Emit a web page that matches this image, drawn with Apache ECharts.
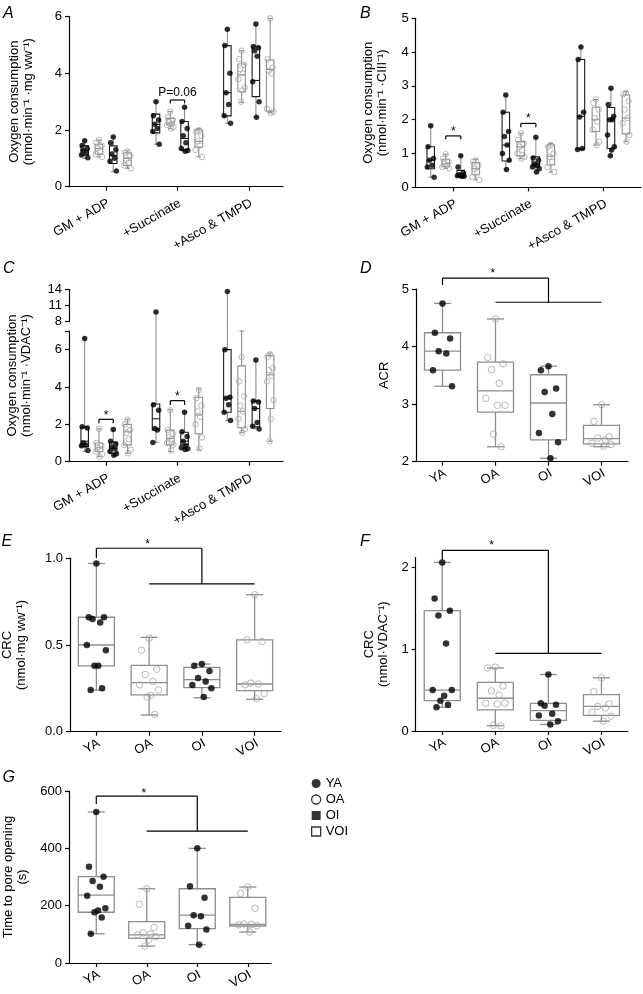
<!DOCTYPE html>
<html><head><meta charset="utf-8">
<script src="https://cdn.jsdelivr.net/npm/echarts@6/dist/echarts.min.js"></script>
<style>html,body{margin:0;padding:0;background:#fff}#c{width:643px;height:994px}</style>
</head><body><div id="c"></div>
<script>
// ---------------- DATA ----------------
const conditions = ['GM + ADP', '+Succinate', '+Asco & TMPD'];
const cohorts = ['YA', 'OA', 'OI', 'VOI'];

// Panel A: oxygen consumption per mg ww (points per condition)
const A_YA  = [[1.62,1.45,1.35,1.28,1.2,1.12,1.02],[3.0,2.5,2.35,2.2,2.05,1.95,1.5],[5.56,4.98,4.0,3.32,2.9,2.5,2.24]];
const A_OA  = [[1.65,1.55,1.45,1.35,1.25,1.15,1.05],[2.65,2.45,2.35,2.28,2.22,2.18,2.1,2.05],[4.8,4.5,4.3,4.15,4.0,3.8,3.5,3.4,3.0]];
const A_OI  = [[1.75,1.55,1.3,1.15,1.0,0.9,0.55],[2.8,2.3,2.05,1.8,1.55,1.35,1.28,1.25],[5.74,4.95,4.9,4.8,4.6,3.7,3.0,2.45]];
const A_VOI = [[1.25,1.2,1.1,0.95,0.85,0.75,0.65],[2.0,1.95,1.8,1.6,1.45,1.3,1.05],[5.94,4.5,4.2,4.1,4.0,2.75,2.65,2.6]];
// boxes: [min, q1, median, q3, max]
const A_YA_box  = [[1.0,1.12,1.28,1.45,1.62],[1.5,1.9,2.2,2.56,3.0],[2.24,2.5,3.32,4.98,5.56]];
const A_OA_box  = [[1.05,1.15,1.35,1.5,1.65],[2.05,2.18,2.25,2.41,2.65],[2.98,3.35,3.95,4.33,4.8]];
const A_OI_box  = [[0.53,0.82,1.1,1.44,1.76],[1.25,1.3,1.7,2.3,2.8],[2.45,3.18,3.75,4.94,5.74]];
const A_VOI_box = [[0.65,0.75,1.0,1.2,1.27],[1.06,1.4,1.6,2.0,2.05],[2.61,2.65,4.14,4.47,5.94]];

// Panel B: per CIII
const B_YA  = [[1.82,1.2,0.85,0.8,0.65,0.6,0.3],[2.73,2.22,1.65,1.5,1.25,1.0,0.8,0.53],[4.15,3.78,2.22,2.08,1.15,1.12]];
const B_OA  = [[0.98,0.85,0.75,0.7,0.65,0.6,0.56],[1.6,1.4,1.3,1.2,1.1,1.0,0.9,0.85],[2.6,2.5,2.3,2.05,1.95,1.7,1.35,1.25]];
const B_OI  = [[0.93,0.6,0.42,0.37,0.35,0.34,0.33,0.33],[1.48,0.87,0.8,0.7,0.65,0.6,0.55,0.45],[2.93,2.45,2.1,2.0,2.0,1.55,1.2,1.1,0.93]];
const B_VOI = [[0.8,0.75,0.65,0.55,0.45,0.3,0.22],[1.25,1.2,1.0,0.9,0.75,0.6,0.45],[2.8,2.75,2.55,2.3,2.05,1.9,1.55,1.35]];
const B_YA_box  = [[0.3,0.55,0.8,1.2,1.82],[0.53,0.78,1.25,2.22,2.73],[1.12,1.13,2.1,3.78,4.15]];
const B_OA_box  = [[0.56,0.61,0.7,0.83,0.98],[0.85,0.93,1.2,1.35,1.6],[1.25,1.65,2.0,2.37,2.6]];
const B_OI_box  = [[0.32,0.33,0.36,0.5,0.93],[0.45,0.61,0.68,0.9,1.48],[0.93,1.15,2.0,2.36,2.93]];
const B_VOI_box = [[0.22,0.37,0.55,0.73,0.83],[0.45,0.66,0.92,1.25,1.3],[1.35,1.58,2.05,2.73,2.83]];

// Panel C: per VDAC (broken axis 0-7 / 8-14)
const C_YA  = [[6.6,1.87,1.8,1.0,0.9,0.85,0.6],[9.8,3.05,2.75,1.78,1.7,1.03],[13.6,6.0,3.45,3.4,3.05,2.65,2.2]];
const C_OA  = [[1.76,1.0,0.85,0.75,0.65,0.55,0.4,0.27],[2.75,1.7,1.5,1.3,1.2,1.0,0.9,0.6],[5.6,4.3,3.5,3.0,2.7,2.3,1.75,1.55]];
const C_OI  = [[1.72,1.1,0.95,0.8,0.7,0.55,0.42,0.35],[2.65,1.6,1.35,1.1,0.85,0.75,0.7,0.65],[5.45,3.25,3.2,2.85,2.1,1.9,1.75]];
const C_VOI = [[2.25,2.0,1.7,1.55,1.2,0.9,0.65,0.45],[3.85,3.4,3.0,2.7,2.4,2.0,1.3,0.7],[5.75,5.6,5.0,4.9,4.6,4.3,3.3,2.3,1.1]];
const C_YA_box  = [[0.55,0.8,1.1,1.85,6.6],[1.03,1.7,2.3,3.09,9.8],[2.2,2.65,3.4,6.0,13.6]];
const C_OA_box  = [[0.27,0.55,0.75,1.0,1.76],[0.55,0.9,1.25,1.69,2.78],[1.55,1.82,2.7,5.13,7.0]];
const C_OI_box  = [[0.33,0.45,0.72,1.05,1.76],[0.64,0.9,1.1,1.58,2.7],[1.76,1.87,2.85,3.25,5.45]];
const C_VOI_box = [[0.45,0.9,1.6,2.0,2.27],[0.64,1.5,2.5,3.45,3.9],[1.09,2.85,4.65,5.69,5.82]];

// Panel D: ACR
const D_YA  = [4.75,4.24,4.14,3.92,3.88,3.59,3.31];
const D_OA  = [4.48,3.81,3.7,3.6,3.36,3.1,2.98,2.98,2.48,2.26];
const D_OI  = [3.66,3.59,3.27,3.21,2.83,2.5,2.34,2.06];
const D_VOI = [2.99,2.7,2.43,2.41,2.38,2.32,2.3,2.27];
const D_box = [[3.31,3.59,3.92,4.24,4.75],[2.26,2.86,3.23,3.73,4.48],[2.06,2.38,3.02,3.51,3.66],[2.26,2.31,2.4,2.63,2.99]];

// Panel E: CRC per mg ww
const E_YA  = [0.97,0.66,0.66,0.65,0.63,0.5,0.47,0.38,0.38,0.25,0.24];
const E_OA  = [0.54,0.47,0.36,0.33,0.29,0.27,0.24,0.21,0.2,0.1];
const E_OI  = [0.39,0.38,0.35,0.31,0.29,0.27,0.25,0.2];
const E_VOI = [0.79,0.53,0.52,0.28,0.275,0.27,0.22,0.19];
const E_box = [[0.24,0.38,0.5,0.66,0.97],[0.096,0.212,0.283,0.383,0.544],[0.196,0.254,0.3,0.371,0.39],[0.187,0.237,0.275,0.529,0.79]];

// Panel F: CRC per VDAC
const F_YA  = [2.06,1.62,1.47,1.41,1.07,0.5,0.5,0.43,0.37,0.32,0.29];
const F_OA  = [0.78,0.77,0.55,0.49,0.44,0.34,0.34,0.33,0.07,0.06];
const F_OI  = [0.69,0.34,0.32,0.31,0.21,0.19,0.12,0.08];
const F_VOI = [0.65,0.48,0.33,0.3,0.28,0.23,0.18,0.12];
const F_box = [[0.29,0.37,0.5,1.47,2.06],[0.065,0.257,0.4,0.595,0.77],[0.08,0.13,0.25,0.338,0.69],[0.12,0.19,0.3,0.444,0.65]];

// Panel G: time to pore opening (s)
const G_YA  = [527,336,301,286,266,235,191,183,177,159,102];
const G_OA  = [259,205,124,105,101,98,92,80,59];
const G_OI  = [400,268,228,167,163,130,117,64];
const G_VOI = [265,243,191,136,135,133,130,108];
const G_box = [[102,177,237,301,527],[59,86,98,144,259],[64,120,167,259,400],[108,129,135,229,265]];

// ---------------- BUILD ----------------
const FONT = '"Liberation Sans", Arial, Helvetica, sans-serif';
const AXC = '#000';
const GREY_BOX = '#8e8e8e';
const GREY_PT = '#a6a6a6';
const DARK_BOX = '#1a1a1a';
const jit = [0, -0.8, 0.8, -0.4, 0.4, -1, 1, 0.2, -0.2, 0.6, -0.6, 0.1];

const grids = [], xAxes = [], yAxes = [], series = [];

function addGrid(g, xa, ya) {
  const gi = grids.length;
  grids.push(Object.assign({outerBoundsMode: 'none', containLabel: false}, g));
  xAxes.push(Object.assign({gridIndex: gi}, xa));
  yAxes.push(Object.assign({gridIndex: gi}, ya));
  return gi;
}
function xAxisCfg(min, max, ticks, names, margin, show) {
  return {type: 'value', min, max, show: show !== false,
    axisLine: {show: true, onZero: false, lineStyle: {color: AXC, width: 1.2}},
    axisTick: {show: true, customValues: ticks, length: 4, lineStyle: {color: AXC, width: 1.2}},
    axisLabel: {customValues: ticks, formatter: v => names[Math.round(v)] || '', rotate: 30, margin,
      fontSize: 13, color: '#000', fontFamily: FONT, padding: [0, -3, 0, 0]},
    splitLine: {show: false}};
}
function yAxisCfg(min, max, tickVals, labelVals, fmt, name, nameGap) {
  return {type: 'value', min, max,
    axisLine: {show: true, onZero: false, lineStyle: {color: AXC, width: 1.2}},
    axisTick: {show: true, customValues: tickVals, length: 4, lineStyle: {color: AXC, width: 1.2}},
    axisLabel: {customValues: labelVals, formatter: fmt || (v => String(v)), margin: 7,
      fontSize: 13, color: '#000', fontFamily: FONT},
    splitLine: {show: false},
    name: name || '', nameLocation: 'middle', nameRotate: 90, nameGap: nameGap || 30,
    nameTextStyle: {fontSize: 13, lineHeight: 14, color: '#000', fontFamily: FONT}};
}

function boxSeries(gi, items, o) {
  // items: [x, min, q1, med, q3, max, cohortIndex]
  series.push({type: 'custom', xAxisIndex: gi, yAxisIndex: gi, z: 2, silent: true, clip: false,
    data: items, encode: {x: 0, y: [1, 2, 3, 4, 5]},
    renderItem: function (params, api) {
      const x = api.value(0);
      const v = [1, 2, 3, 4, 5].map(i => api.value(i));
      const ci = api.value(6);
      const lo = o.lo, hi = o.hi;
      const boxC = o.boxColors[ci], wC = o.whisker;
      const cl = y => Math.max(lo, Math.min(hi, y));
      const cx = api.coord([x, cl(v[2])])[0];
      const Y = val => api.coord([x, cl(val)])[1];
      const ch = [];
      const ls = c => ({stroke: c, lineWidth: o.lw, fill: null});
      function seg(a, b) {
        if (b < lo || a > hi) return;
        let y1 = Y(a), y2 = Y(b);
        if (b > hi && o.extTop) y2 -= o.extTop;
        ch.push({type: 'line', shape: {x1: cx, y1, x2: cx, y2}, style: ls(wC)});
      }
      seg(v[0], v[1]); seg(v[3], v[4]);
      [v[0], v[4]].forEach(val => {
        if (val >= lo && val <= hi) {
          const y = Y(val);
          ch.push({type: 'line', shape: {x1: cx - o.cap / 2, y1: y, x2: cx + o.cap / 2, y2: y}, style: ls(wC)});
        }
      });
      if (!(v[3] < lo || v[1] > hi)) {
        const yt = Y(v[3]), yb = Y(v[1]);
        ch.push({type: 'rect', shape: {x: cx - o.w / 2, y: yt, width: o.w, height: yb - yt}, style: {stroke: boxC, lineWidth: o.lw, fill: 'none'}});
      }
      if (v[2] >= lo && v[2] <= hi) {
        const y = Y(v[2]);
        ch.push({type: 'line', shape: {x1: cx - o.w / 2, y1: y, x2: cx + o.w / 2, y2: y}, style: ls(boxC)});
      }
      return {type: 'group', children: ch};
    }});
}

function pointSeries(gi, name, groups, xs, amp, filled, size, filt) {
  const data = [];
  groups.forEach((arr, k) => arr.forEach((v, i) => {
    if (!filt || filt(v)) data.push([xs[k] + jit[i % jit.length] * amp, v]);
  }));
  series.push({type: 'scatter', name, xAxisIndex: gi, yAxisIndex: gi, z: 5, silent: true,
    data, symbol: 'circle', symbolSize: size,
    itemStyle: filled ? {color: '#000', borderWidth: 0} : {color: 'rgba(255,255,255,0)', borderColor: GREY_PT, borderWidth: 1}});
}

function bracketSeries(gi, lines, texts) {
  series.push({type: 'custom', xAxisIndex: gi, yAxisIndex: gi, z: 6, silent: true, clip: false,
    data: [[0, 0]],
    renderItem: function (params, api) {
      const ch = [];
      lines.forEach(l => {
        const a = api.coord([l[0], l[1]]), b = api.coord([l[2], l[3]]);
        ch.push({type: 'line', shape: {x1: a[0], y1: a[1], x2: b[0], y2: b[1]}, style: {stroke: '#000', lineWidth: 1.2}});
      });
      texts.forEach(t => {
        const a = api.coord([t.x, t.y]);
        ch.push({type: 'text', x: a[0], y: a[1] + (t.dy || 0), style: {text: t.text, fill: '#000', font: (t.size || 12) + 'px ' + FONT, align: 'center', verticalAlign: 'middle'}});
      });
      return {type: 'group', children: ch};
    }});
}

const offs = [-0.3, -0.1, 0.1, 0.3];
const idx = [0, 1, 2];
const oxName = 'Oxygen consumption';

// ---- Panel A-C helper ----
function groupedPanel(gi, pts, boxes, o) {
  const items = [];
  boxes.forEach((bx, c) => bx.forEach((b, k) => items.push([k + offs[c]].concat(b, [c]))));
  boxSeries(gi, items, Object.assign({w: 7.5, cap: 4.5, lw: 1.1, whisker: GREY_BOX, boxColors: [DARK_BOX, GREY_BOX, DARK_BOX, GREY_BOX]}, o));
  pts.forEach((p, c) => pointSeries(gi, cohorts[c], p, idx.map(k => k + offs[c]), 0.045, c % 2 === 0, 5.5, o.filt));
}

// Panel A
const gA = addGrid({left: 69, top: 16.7, width: 214, height: 170},
  xAxisCfg(-0.52, 2.48, [0, 1, 2], conditions, 17),
  yAxisCfg(0, 6, [0, 2, 4, 6], [0, 2, 4, 6], null, oxName + '\n(nmol·min⁻¹ ·mg ww⁻¹)', 34));
groupedPanel(gA, [A_YA, A_OA, A_OI, A_VOI], [A_YA_box, A_OA_box, A_OI_box, A_VOI_box], {lo: 0, hi: 6});
bracketSeries(gA, [[0.9, 3.06, 1.1, 3.06], [0.9, 3.06, 0.9, 2.94], [1.1, 3.06, 1.1, 2.94]], [{x: 1, y: 3.32, text: 'P=0.06', size: 12}]);

// Panel B
const gB = addGrid({left: 415.7, top: 18.3, width: 225.3, height: 169},
  xAxisCfg(-0.5, 2.5, [0, 1, 2], conditions, 17),
  yAxisCfg(0, 5, [0, 1, 2, 3, 4, 5], [0, 1, 2, 3, 4, 5], null, oxName + '\n(nmol·min⁻¹ ·CIII⁻¹)', 26));
groupedPanel(gB, [B_YA, B_OA, B_OI, B_VOI], [B_YA_box, B_OA_box, B_OI_box, B_VOI_box], {lo: 0, hi: 5});
bracketSeries(gB, [[-0.1, 1.52, 0.1, 1.52], [-0.1, 1.52, -0.1, 1.42], [0.1, 1.52, 0.1, 1.42],
  [0.9, 1.89, 1.1, 1.89], [0.9, 1.89, 0.9, 1.78], [1.1, 1.89, 1.1, 1.78]],
  [{x: 0, y: 1.72, text: '*', size: 12, dy: 3}, {x: 1, y: 2.11, text: '*', size: 12, dy: 3}]);

// Panel C (broken axis)
const gCu = addGrid({left: 69, top: 289.3, width: 214, height: 32.4},
  xAxisCfg(-0.52, 2.48, [], conditions, 17, false),
  yAxisCfg(8, 14, [8, 11, 14], [8, 11, 14], null, '', 30));
const gCl = addGrid({left: 69, top: 331, width: 214, height: 130.7},
  xAxisCfg(-0.52, 2.48, [0, 1, 2], conditions, 17),
  yAxisCfg(0, 7, [0, 2, 4, 6, 7], [0, 2, 4, 6], null, '', 30));
const gCn = addGrid({left: 69, top: 289.3, width: 214, height: 172.4},
  {type: 'value', show: false, min: 0, max: 1},
  Object.assign(yAxisCfg(0, 1, [], [], null, oxName + '\n(nmol·min⁻¹ ·VDAC⁻¹)', 36),
    {axisLine: {show: false}, axisTick: {show: false}, axisLabel: {show: false}}));
groupedPanel(gCl, [C_YA, C_OA, C_OI, C_VOI], [C_YA_box, C_OA_box, C_OI_box, C_VOI_box], {lo: 0, hi: 7, extTop: 9.3, filt: v => v <= 7});
groupedPanel(gCu, [C_YA, C_OA, C_OI, C_VOI], [C_YA_box, C_OA_box, C_OI_box, C_VOI_box], {lo: 8, hi: 14, filt: v => v >= 8});
bracketSeries(gCl, [[-0.1, 2.27, 0.1, 2.27], [-0.1, 2.27, -0.1, 2.06], [0.1, 2.27, 0.1, 2.06],
  [0.9, 3.27, 1.1, 3.27], [0.9, 3.27, 0.9, 3.04], [1.1, 3.27, 1.1, 3.04]],
  [{x: 0, y: 2.62, text: '*', size: 12, dy: 3}, {x: 1, y: 3.66, text: '*', size: 12, dy: 3}]);

// ---- Panels D-G helper ----
function simplePanel(gi, pts, boxes, o) {
  const items = boxes.map((b, c) => [c].concat(b, [c]));
  boxSeries(gi, items, {w: 36, cap: 17, lw: 1.3, whisker: GREY_BOX, boxColors: [GREY_BOX, GREY_BOX, GREY_BOX, GREY_BOX], lo: o.lo, hi: o.hi});
  pts.forEach((p, c) => pointSeries(gi, cohorts[c], [p], [c], 0.18, c % 2 === 0, 6.5));
}
const cat4 = [0, 1, 2, 3];

// Panel D
const gD = addGrid({left: 416, top: 289, width: 212, height: 172.7},
  xAxisCfg(-0.5, 3.5, cat4, cohorts, 12),
  yAxisCfg(2, 5, [2, 3, 4, 5], [2, 3, 4, 5], null, 'ACR', 25));
simplePanel(gD, [D_YA, D_OA, D_OI, D_VOI], D_box, {lo: 2, hi: 5});
bracketSeries(gD, [[0, 5.19, 2, 5.19], [0, 5.19, 0, 5.07], [2, 5.19, 2, 4.77], [1, 4.77, 3, 4.77]],
  [{x: 0.95, y: 5.31, text: '*', size: 12, dy: 3}]);

// Panel E
const gE = addGrid({left: 70, top: 558.3, width: 211, height: 173.4},
  xAxisCfg(-0.5, 3.5, cat4, cohorts, 12),
  yAxisCfg(0, 1, [0, 0.5, 1], [0, 0.5, 1], v => v.toFixed(1), 'CRC\n(nmol·mg ww⁻¹)', 42));
simplePanel(gE, [E_YA, E_OA, E_OI, E_VOI], E_box, {lo: 0, hi: 1});
bracketSeries(gE, [[0, 1.058, 2, 1.058], [0, 1.058, 0, 1.0], [2, 1.058, 2, 0.852], [1, 0.852, 3, 0.852]],
  [{x: 0.97, y: 1.096, text: '*', size: 12, dy: 3}]);

// Panel F
const gF = addGrid({left: 415.7, top: 557.5, width: 212.3, height: 173.5},
  xAxisCfg(-0.5, 3.5, cat4, cohorts, 12),
  yAxisCfg(0, 2.12, [0, 1, 2], [0, 1, 2], null, 'CRC\n(nmol·VDAC⁻¹)', 25));
simplePanel(gF, [F_YA, F_OA, F_OI, F_VOI], F_box, {lo: 0, hi: 2.12});
bracketSeries(gF, [[0, 2.207, 2, 2.207], [0, 2.207, 0, 2.09], [2, 2.207, 2, 0.948], [1, 0.948, 3, 0.948]],
  [{x: 0.93, y: 2.3, text: '*', size: 12, dy: 3}]);

// Panel G
const gG = addGrid({left: 69, top: 791, width: 202, height: 172},
  xAxisCfg(-0.54, 3.46, cat4, cohorts, 12),
  yAxisCfg(0, 600, [0, 200, 400, 600], [0, 200, 400, 600], null, 'Time to pore opening\n(s)', 40));
simplePanel(gG, [G_YA, G_OA, G_OI, G_VOI], G_box, {lo: 0, hi: 600});
bracketSeries(gG, [[0, 582, 2, 582], [0, 582, 0, 555], [2, 582, 2, 460], [1, 460, 3, 460]],
  [{x: 0.94, y: 602, text: '*', size: 12, dy: 3}]);

// panel letters
const letters = [['A', 3, 6], ['B', 360, 5.5], ['C', 3, 260.5], ['D', 360, 260.5], ['E', 1.5, 533.5], ['F', 360, 533.5], ['G', 2.5, 770]];
const graphic = letters.map(l => ({type: 'text', left: l[1], top: l[2], silent: true,
  style: {text: l[0], font: 'italic 16px ' + FONT, fill: '#000'}}));

const chart = echarts.init(document.getElementById('c'), null, {renderer: 'canvas', width: 643, height: 994});
chart.setOption({
  animation: false,
  backgroundColor: '#fff',
  textStyle: {fontFamily: FONT},
  grid: grids, xAxis: xAxes, yAxis: yAxes, series, graphic,
  legend: {orient: 'vertical', left: 311, top: 777, itemWidth: 9, itemHeight: 9, itemGap: 3, padding: 0,
    selectedMode: false, textStyle: {fontSize: 13, color: '#000', fontFamily: FONT},
    data: [
      {name: 'YA', icon: 'circle', itemStyle: {color: '#000', borderWidth: 0}},
      {name: 'OA', icon: 'circle', itemStyle: {color: '#fff', borderColor: '#000', borderWidth: 1.3}},
      {name: 'OI', icon: 'rect', itemStyle: {color: '#000', borderWidth: 0}},
      {name: 'VOI', icon: 'rect', itemStyle: {color: '#fff', borderColor: '#000', borderWidth: 1.3}}
    ]}
});
</script></body></html>
